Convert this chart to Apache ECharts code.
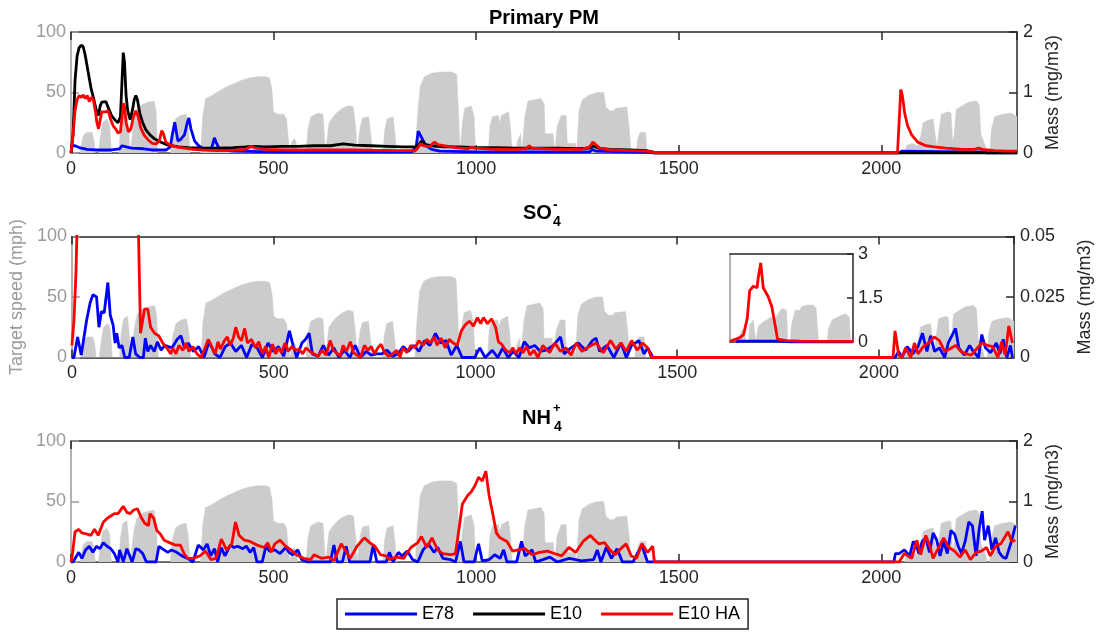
<!DOCTYPE html>
<html><head><meta charset="utf-8">
<script src="https://cdn.jsdelivr.net/npm/echarts@6/dist/echarts.min.js"></script>
<style>html,body{margin:0;padding:0;background:#fff}#c{width:1102px;height:632px}</style>
</head><body><div id="c"></div>
<script>
// ---------- DATA ----------
const xMin = 0, xMax = 2335, xInterval = 500;
const seriesNames = ['E78', 'E10', 'E10 HA'];

// target speed (mph), [time, speed]
const speedProfile = [
[0,0],[22,0],[25,6],[30,14],[38,17],[52,17],[57,10],[60,0],[68,0],[72,12],[78,25],[88,28],[95,24],[100,0],[118,0],[122,20],[128,32],[138,34],[142,20],[146,0],[150,0],[155,25],[162,36],[175,40],[190,42],[205,43],[210,35],[214,0],[245,0],[250,18],[258,28],[270,31],[284,32],[290,20],[294,0],[320,0],[325,30],[332,45],[345,47],[360,50],[380,54],[400,57],[420,60],[440,62],[460,63],[480,63],[490,62],[496,52],[500,34],[510,32],[525,32],[532,28],[537,10],[540,0],[542,0],[546,10],[552,12],[556,8],[560,0],[580,0],[585,20],[592,30],[610,33],[622,32],[628,0],[632,0],[637,25],[645,29],[655,33],[670,37],[685,39],[697,38],[703,20],[706,0],[710,0],[714,22],[720,29],[735,30],[740,15],[744,0],[770,0],[774,18],[780,28],[795,30],[800,15],[803,0],[850,0],[855,30],[862,55],[872,63],[890,66],[910,67],[940,67],[952,65],[957,30],[960,0],[962,0],[966,25],[972,37],[988,39],[995,30],[999,0],[1030,0],[1034,22],[1040,30],[1055,31],[1058,25],[1063,31],[1080,34],[1085,20],[1089,0],[1098,0],[1102,10],[1110,16],[1113,0],[1116,0],[1120,30],[1128,43],[1160,45],[1168,40],[1170,16],[1190,16],[1194,0],[1197,0],[1200,22],[1210,31],[1222,31],[1225,8],[1245,8],[1248,0],[1250,0],[1254,35],[1262,44],[1280,48],[1300,50],[1315,50],[1320,38],[1330,35],[1340,35],[1345,37],[1372,38],[1378,20],[1382,0],[1395,0],[1399,12],[1405,17],[1418,17],[1422,0],[2058,0],[2062,6],[2075,8],[2090,6],[2098,15],[2103,25],[2115,27],[2128,28],[2133,15],[2138,5],[2143,20],[2148,32],[2165,34],[2172,33],[2176,10],[2180,15],[2185,36],[2200,39],[2215,42],[2235,43],[2242,40],[2246,15],[2250,12],[2258,5],[2262,0],[2268,0],[2272,20],[2280,30],[2300,32],[2320,33],[2330,31],[2335,30]
];

// Primary PM (mg/m3)
const pmE78 = [
[0,0],[3,0.12],[10,0.12],[20,0.09],[40,0.06],[60,0.05],[100,0.05],[120,0.07],[126,0.12],[130,0.15],[136,0.1],[150,0.08],[180,0.07],[200,0.05],[235,0.05],[245,0.1],[250,0.3],[256,0.51],[260,0.35],[264,0.2],[270,0.22],[280,0.3],[287,0.5],[291,0.58],[296,0.4],[305,0.2],[315,0.12],[330,0.06],[345,0.05],[350,0.15],[354,0.25],[358,0.18],[365,0.08],[375,0.05],[400,0.03],[500,0.02],[700,0.02],[840,0.02],[852,0.1],[857,0.36],[862,0.3],[868,0.22],[876,0.12],[890,0.06],[910,0.03],[1000,0.02],[1200,0.02],[1280,0.02],[1288,0.06],[1295,0.03],[1420,0.01],[1440,0],[2044,0],[2050,0.03],[2200,0.02],[2250,0.02],[2260,0],[2335,0]
];
const pmE10 = [
[0,0],[5,0.3],[10,1.2],[15,1.6],[20,1.74],[25,1.78],[30,1.76],[35,1.62],[42,1.35],[50,1.05],[56,0.9],[62,0.72],[68,0.62],[72,0.78],[76,0.84],[80,0.82],[86,0.85],[92,0.75],[100,0.62],[108,0.55],[116,0.5],[122,0.6],[126,1.2],[129,1.66],[132,1.5],[136,0.95],[140,0.7],[146,0.55],[152,0.72],[156,0.88],[160,0.95],[164,0.88],[170,0.65],[177,0.5],[185,0.38],[195,0.3],[205,0.24],[215,0.2],[225,0.17],[235,0.14],[248,0.12],[265,0.1],[290,0.09],[320,0.08],[360,0.08],[400,0.09],[430,0.1],[450,0.11],[480,0.1],[520,0.11],[560,0.11],[600,0.12],[640,0.12],[672,0.15],[700,0.13],[740,0.12],[780,0.11],[820,0.1],[850,0.1],[860,0.15],[866,0.2],[875,0.14],[890,0.12],[920,0.1],[960,0.1],[1000,0.09],[1050,0.09],[1100,0.08],[1150,0.08],[1200,0.08],[1250,0.07],[1280,0.08],[1290,0.12],[1300,0.08],[1330,0.06],[1380,0.05],[1420,0.04],[1435,0.02],[1440,0],[2335,0]
];
const pmE10HA = [
[0,0],[5,0.3],[10,0.7],[15,0.88],[20,0.95],[25,0.92],[30,0.96],[35,0.9],[40,0.95],[45,0.85],[50,0.92],[55,0.88],[60,0.7],[64,0.5],[68,0.4],[72,0.55],[76,0.68],[80,0.7],[86,0.68],[92,0.7],[98,0.55],[104,0.45],[110,0.4],[116,0.33],[122,0.35],[126,0.6],[129,0.82],[132,0.78],[136,0.5],[142,0.35],[148,0.4],[154,0.6],[160,0.7],[166,0.6],[172,0.42],[180,0.3],[190,0.22],[200,0.16],[210,0.15],[218,0.2],[224,0.37],[228,0.32],[234,0.18],[245,0.13],[260,0.1],[280,0.08],[300,0.06],[320,0.05],[360,0.04],[400,0.045],[430,0.06],[446,0.11],[455,0.08],[480,0.06],[520,0.05],[600,0.05],[700,0.05],[800,0.04],[850,0.04],[858,0.1],[862,0.15],[870,0.12],[885,0.1],[893,0.16],[898,0.18],[905,0.14],[920,0.12],[950,0.09],[980,0.07],[989,0.1],[995,0.08],[1050,0.06],[1100,0.06],[1125,0.07],[1130,0.12],[1138,0.08],[1200,0.06],[1260,0.06],[1280,0.1],[1288,0.18],[1295,0.14],[1305,0.08],[1330,0.05],[1380,0.04],[1420,0.03],[1435,0.02],[1440,0],[2040,0],[2044,0.5],[2048,1.05],[2052,0.95],[2058,0.65],[2065,0.45],[2075,0.3],[2090,0.18],[2110,0.12],[2130,0.1],[2160,0.08],[2200,0.06],[2230,0.06],[2240,0.08],[2250,0.06],[2280,0.04],[2310,0.03],[2335,0.03]
];

// SO4- (mg/m3)
const so4E78 = [
[0,0],[5,0],[14,0.0085],[23,0.001],[36,0.015],[45,0.0225],[52,0.026],[61,0.025],[67,0.0125],[73,0.019],[80,0.0185],[89,0.031],[95,0.0175],[102,0.0135],[107,0.006],[111,0.01],[117,0.004],[124,0.005],[131,0],[142,0],[151,0.0085],[158,0.0015],[168,0],[177,0],[182,0.008],[188,0.0025],[195,0.005],[204,0.0025],[212,0.0065],[221,0.003],[230,0.005],[248,0.004],[261,0.0075],[270,0.009],[279,0.004],[288,0.006],[301,0.0025],[314,0.0045],[327,0],[340,0.0065],[354,0.0015],[367,0],[380,0.0045],[393,0.006],[406,0.0025],[420,0.005],[433,0],[446,0.0055],[459,0.004],[472,0],[486,0.006],[499,0.0025],[512,0.0045],[525,0.0005],[539,0.011],[548,0.005],[557,0],[570,0.006],[579,0.0075],[588,0.01],[596,0.0015],[610,0.0005],[623,0.005],[636,0.001],[649,0.004],[662,0],[675,0.003],[689,0],[702,0.005],[715,0],[729,0.0025],[742,0.001],[755,0.0015],[768,0.0015],[781,0.003],[795,0.0005],[808,0.0015],[821,0.0045],[834,0.0025],[847,0.005],[860,0.0025],[874,0.007],[887,0.005],[901,0.01],[914,0.006],[927,0.007],[940,0.001],[954,0.005],[967,0],[980,0],[998,0],[1011,0.004],[1024,0],[1042,0.003],[1055,0],[1068,0.004],[1081,0],[1094,0.0025],[1108,0],[1121,0.0065],[1134,0.004],[1147,0.005],[1161,0.0025],[1175,0.003],[1193,0.005],[1211,0.0085],[1220,0.0015],[1237,0.004],[1255,0.006],[1273,0.003],[1290,0.007],[1299,0.008],[1308,0.0025],[1326,0.005],[1343,0],[1361,0.006],[1374,0],[1387,0.005],[1405,0.007],[1418,0.0015],[1427,0.004],[1440,0],[2040,0],[2049,0.0025],[2057,0],[2070,0.0045],[2084,0.0015],[2097,0.0045],[2108,0.01],[2119,0.0025],[2128,0.009],[2138,0.0025],[2150,0.004],[2163,0],[2172,0.006],[2181,0.009],[2190,0.012],[2198,0.004],[2212,0.001],[2225,0.005],[2234,0.0025],[2247,0],[2255,0.0095],[2264,0.004],[2277,0.002],[2291,0.006],[2300,0.0015],[2308,0.0075],[2317,0],[2326,0.005],[2331,0]
];
const so4E10HA = [
[0,0.005],[5,0.015],[10,0.035],[15,0.07],[25,1.0],[60,1.8],[100,1.5],[140,0.6],[150,0.3],[154,0.052],[165,0.051],[170,0.01],[180,0.02],[188,0.02],[195,0.0125],[205,0.01],[215,0.009],[225,0.006],[235,0.004],[245,0.0015],[250,0.004],[258,0.0015],[265,0.005],[275,0.003],[283,0.006],[290,0.0025],[300,0.0045],[310,0.0015],[320,0],[330,0.004],[338,0.0075],[345,0.005],[355,0.0015],[362,0.0065],[368,0.0035],[378,0.007],[385,0.0085],[392,0.005],[400,0.008],[406,0.0125],[413,0.0085],[420,0.007],[428,0.012],[435,0.006],[445,0.0075],[455,0.004],[463,0.0065],[472,0.0015],[480,0.0045],[488,0],[497,0.0055],[505,0.0015],[512,0.004],[520,0.002],[528,0.006],[536,0.0025],[545,0.0045],[555,0.003],[563,0.0035],[572,0.0015],[580,0.004],[590,0.0025],[600,0.0015],[610,0.0005],[620,0.003],[630,0.001],[640,0.007],[648,0.003],[655,0.002],[665,0.0005],[672,0.005],[680,0.0025],[690,0.0065],[698,0.002],[706,0.001],[715,0],[725,0.005],[733,0.003],[742,0.0045],[750,0.0015],[758,0.004],[766,0.0055],[775,0.002],[785,0.0005],[795,0.0015],[805,0.003],[813,0],[820,0.004],[830,0.002],[840,0.005],[850,0.004],[860,0.007],[870,0.005],[880,0.0075],[888,0.006],[898,0.0085],[905,0.005],[915,0.008],[925,0.004],[935,0.0075],[945,0.006],[955,0.005],[965,0.011],[975,0.0135],[985,0.015],[995,0.013],[1005,0.0165],[1013,0.014],[1020,0.0165],[1030,0.014],[1040,0.016],[1050,0.0125],[1057,0.0065],[1065,0.0055],[1075,0.003],[1085,0.002],[1093,0.004],[1100,0.0015],[1110,0.004],[1118,0.002],[1127,0.0045],[1135,0.001],[1145,0.003],[1155,0],[1167,0.005],[1184,0.002],[1197,0.006],[1211,0.0025],[1224,0.004],[1237,0.001],[1250,0.006],[1264,0.0025],[1282,0.0045],[1299,0.006],[1317,0.002],[1335,0.007],[1348,0.0035],[1361,0.006],[1374,0.0025],[1387,0.007],[1401,0.003],[1414,0.006],[1427,0.004],[1436,0],[2035,0],[2040,0.011],[2049,0.001],[2057,0],[2066,0.004],[2079,0],[2088,0.006],[2097,0.0015],[2110,0.0045],[2123,0.006],[2137,0.0085],[2150,0.007],[2163,0.0025],[2176,0.0035],[2190,0.005],[2203,0.0025],[2216,0.0015],[2229,0.001],[2242,0.0035],[2255,0.006],[2269,0.005],[2282,0.0045],[2295,0],[2304,0.0065],[2313,0.001],[2322,0.013],[2331,0.006]
];

// NH4+ (mg/m3)
const nh4E78 = [
[0,0],[5,0],[19,0.16],[27,0.06],[36,0.2],[45,0.26],[54,0.16],[63,0.26],[71,0.22],[80,0.32],[89,0.26],[98,0.22],[107,0.14],[116,0],[120,0.2],[129,0],[138,0.22],[151,0],[160,0.22],[168,0.2],[177,0.14],[186,0],[210,0],[217,0.26],[225,0.22],[239,0.16],[248,0.2],[261,0.16],[274,0.1],[288,0.06],[301,0],[314,0.28],[327,0.2],[336,0.3],[345,0.1],[354,0.22],[362,0],[371,0.24],[380,0.1],[393,0.28],[402,0.24],[411,0.26],[424,0.22],[433,0.26],[442,0.16],[451,0.24],[459,0],[472,0],[481,0.26],[490,0.18],[503,0.2],[516,0.14],[530,0.24],[538,0.16],[547,0.12],[560,0.2],[569,0.04],[583,0],[640,0],[649,0.28],[657,0],[670,0],[679,0.26],[688,0],[738,0],[746,0.28],[755,0],[778,0],[786,0.16],[795,0],[808,0.16],[817,0.1],[830,0.18],[843,0.04],[856,0],[869,0.2],[882,0.3],[896,0.16],[905,0.24],[918,0.06],[936,0.04],[949,0],[961,0.34],[970,0],[995,0],[1006,0.3],[1015,0.02],[1032,0.04],[1046,0.12],[1059,0.06],[1068,0.2],[1076,0],[1100,0],[1112,0.34],[1121,0.1],[1138,0.2],[1147,0],[1165,0.04],[1182,0.08],[1200,0],[1230,0.06],[1260,0.02],[1290,0.04],[1299,0.2],[1308,0],[1321,0.24],[1334,0.06],[1348,0.22],[1361,0],[1387,0],[1409,0.28],[1423,0],[1440,0],[2031,0],[2035,0.14],[2044,0.14],[2057,0.2],[2070,0.1],[2079,0.34],[2088,0.26],[2092,0.14],[2101,0.34],[2110,0.4],[2119,0.16],[2128,0.48],[2137,0.36],[2145,0.1],[2154,0.34],[2163,0.14],[2172,0.52],[2181,0.46],[2190,0.26],[2198,0.14],[2207,0.34],[2216,0.66],[2225,0.6],[2234,0.1],[2242,0.56],[2249,0.84],[2255,0.36],[2264,0.6],[2273,0.2],[2282,0.4],[2291,0.16],[2300,0.08],[2308,0.06],[2322,0.36],[2331,0.6]
];
const nh4E10HA = [
[0,0],[3,0.1],[10,0.5],[19,0.54],[27,0.48],[40,0.46],[49,0.44],[58,0.54],[67,0.44],[80,0.66],[89,0.72],[98,0.76],[107,0.8],[116,0.8],[129,0.92],[138,0.82],[146,0.8],[155,0.86],[164,0.88],[173,0.74],[182,0.64],[191,0.6],[195,0.8],[204,0.72],[212,0.52],[221,0.46],[230,0.36],[243,0.32],[257,0.28],[270,0.28],[279,0.14],[288,0.06],[301,0.06],[318,0.1],[332,0.18],[345,0.04],[358,0.06],[371,0.38],[384,0.2],[397,0.3],[406,0.66],[415,0.44],[428,0.36],[442,0.34],[459,0.28],[477,0.24],[486,0.32],[494,0.16],[503,0.3],[516,0.36],[530,0.26],[543,0.2],[556,0.12],[574,0.06],[592,0.04],[600,0.12],[618,0.06],[636,0.08],[649,0.02],[667,0.3],[680,0.16],[689,0.06],[706,0.26],[724,0.4],[737,0.32],[750,0.26],[764,0.12],[777,0.1],[786,0.04],[803,0.08],[821,0.06],[839,0.24],[856,0.32],[865,0.42],[878,0.24],[891,0.4],[905,0.2],[918,0.14],[936,0.12],[949,0.14],[958,0.56],[966,0.96],[979,1.1],[988,1.16],[997,1.26],[1006,1.4],[1015,1.34],[1024,1.5],[1032,1.1],[1041,0.8],[1050,0.48],[1059,0.4],[1076,0.34],[1090,0.18],[1103,0.2],[1121,0.22],[1138,0.12],[1156,0.16],[1176,0.18],[1193,0.14],[1211,0.1],[1229,0.24],[1246,0.16],[1264,0.34],[1282,0.44],[1290,0.38],[1303,0.3],[1317,0.32],[1330,0.2],[1343,0.12],[1357,0.22],[1370,0.3],[1383,0.1],[1396,0.06],[1409,0.3],[1423,0.16],[1436,0.26],[1440,0],[2044,0],[2057,0.14],[2075,0.06],[2088,0.36],[2097,0.12],[2110,0.44],[2119,0.28],[2128,0.06],[2137,0.18],[2154,0.4],[2167,0.24],[2181,0.18],[2194,0.08],[2207,0.2],[2220,0.04],[2234,0.16],[2247,0.18],[2260,0.24],[2269,0.1],[2282,0.26],[2295,0.3],[2304,0.4],[2313,0.5],[2322,0.34],[2331,0.36]
];

// Inset (SO4- full range), x in % of inset span
const insetSpeed = [
[0,0],[6,0],[8,8],[10,14],[12,10],[13,0],[15,0],[16,20],[19,25],[21,0],[22,0],[23,18],[27,23],[30,25],[33,28],[37,27],[38,30],[42,38],[46,36],[47,0],[49,0],[50,20],[53,36],[57,36],[58,40],[63,42],[68,42],[70,38],[72,0],[79,0],[80,15],[83,25],[90,30],[94,32],[97,28],[98,0],[100,0]
];
const insetE78 = [[5,0],[7,0.03],[40,0.03],[45,0.02],[50,0],[100,0]];
const insetE10HA = [
[0,0.02],[8,0.15],[11,0.25],[14,0.8],[16,1.75],[19,1.9],[22,1.85],[23,2.2],[25,2.7],[27,1.85],[31,1.55],[34,1.2],[37,0.5],[38.6,0.1],[46,0.05],[57,0.03],[71,0.02],[100,0.02]
];

// ---------- STYLE / LAYOUT ----------
const FONT = '"Liberation Sans", Arial, Helvetica, sans-serif';
const GRAY = '#9a9a9a';
const AX = '#262626';
const FILL = '#cccccc';
const LW = 2.8;
const COLORS = {'E78': '#0000ff', 'E10': '#000000', 'E10 HA': '#ff0000'};
const plain = v => String(v);

const panels = [
  {top: 32, rMax: 2, rInt: 1, nameGap: 22, data: {'E78': pmE78, 'E10': pmE10, 'E10 HA': pmE10HA}},
  {top: 236.5, rMax: 0.05, rInt: 0.025, nameGap: 60, leftName: 'Target speed (mph)', data: {'E78': so4E78, 'E10 HA': so4E10HA}},
  {top: 441, rMax: 2, rInt: 1, nameGap: 22, data: {'E78': nh4E78, 'E10 HA': nh4E10HA}}
];
const PH = 121, PL = 71, PW = 946;

const grid = [], xAxis = [], yAxis = [], series = [];
panels.forEach((p, i) => {
  grid.push({left: PL, top: p.top, width: PW, height: PH});
  xAxis.push({
    type: 'value', gridIndex: i, position: 'bottom', min: xMin, max: xMax, interval: xInterval,
    axisLine: {onZero: false, lineStyle: {color: AX, width: 1.5}},
    axisTick: {inside: true, length: 8, lineStyle: {color: AX, width: 1.5}},
    axisLabel: {color: AX, fontSize: 18, fontFamily: FONT, margin: 7, showMaxLabel: false, formatter: plain},
    splitLine: {show: false}
  });
  xAxis.push({
    type: 'value', gridIndex: i, position: 'top', min: xMin, max: xMax, interval: xInterval,
    axisLine: {onZero: false, lineStyle: {color: AX, width: 1.5}},
    axisTick: {inside: true, length: 8, lineStyle: {color: AX, width: 1.5}},
    axisLabel: {show: false}, splitLine: {show: false}
  });
  yAxis.push({
    type: 'value', gridIndex: i, position: 'left', min: 0, max: 100, interval: 50,
    axisLine: {show: true, onZero: false, lineStyle: {color: GRAY, width: 1.5}},
    axisTick: {show: true, inside: true, length: 8, lineStyle: {color: GRAY, width: 1.5}},
    axisLabel: {color: GRAY, fontSize: 18, fontFamily: FONT, margin: 5, formatter: plain},
    splitLine: {show: false},
    name: p.leftName || '', nameLocation: 'middle', nameRotate: 90, nameGap: 44,
    nameTextStyle: {color: GRAY, fontSize: 18, fontFamily: FONT}
  });
  yAxis.push({
    type: 'value', gridIndex: i, position: 'right', min: 0, max: p.rMax, interval: p.rInt,
    axisLine: {show: true, onZero: false, lineStyle: {color: AX, width: 1.5}},
    axisTick: {show: true, inside: true, length: 8, lineStyle: {color: AX, width: 1.5}},
    axisLabel: {color: AX, fontSize: 18, fontFamily: FONT, margin: 6, formatter: plain},
    splitLine: {show: false},
    name: 'Mass (mg/m3)', nameLocation: 'middle', nameRotate: 90, nameGap: p.nameGap,
    nameTextStyle: {color: AX, fontSize: 18, fontFamily: FONT}
  });
  series.push({
    type: 'line', name: 'Target speed', xAxisIndex: 2 * i, yAxisIndex: 2 * i, data: speedProfile,
    symbol: 'none', silent: true, lineStyle: {width: 0.5, color: FILL}, areaStyle: {color: FILL, opacity: 1}, z: 1
  });
  seriesNames.forEach(n => {
    if (!p.data[n]) return;
    series.push({
      type: 'line', name: n, xAxisIndex: 2 * i, yAxisIndex: 2 * i + 1, data: p.data[n],
      symbol: 'none', lineStyle: {width: LW, color: COLORS[n]}, itemStyle: {color: COLORS[n]}, z: 3
    });
  });
});

// inset
grid.push({left: 730, top: 254, width: 123, height: 88, show: true, backgroundColor: '#fff', borderWidth: 0, z: 5});
xAxis.push({type: 'value', gridIndex: 3, position: 'bottom', min: 0, max: 100, z: 6,
  axisLine: {onZero: false, lineStyle: {color: AX, width: 1.5}}, axisTick: {show: false}, axisLabel: {show: false}, splitLine: {show: false}});
xAxis.push({type: 'value', gridIndex: 3, position: 'top', min: 0, max: 100, z: 6,
  axisLine: {onZero: false, lineStyle: {color: AX, width: 1.5}}, axisTick: {show: false}, axisLabel: {show: false}, splitLine: {show: false}});
yAxis.push({type: 'value', gridIndex: 3, position: 'left', min: 0, max: 100, z: 6,
  axisLine: {show: true, onZero: false, lineStyle: {color: GRAY, width: 1.5}}, axisTick: {show: false}, axisLabel: {show: false}, splitLine: {show: false}});
yAxis.push({type: 'value', gridIndex: 3, position: 'right', min: 0, max: 3, interval: 1.5, z: 6,
  axisLine: {show: true, onZero: false, lineStyle: {color: AX, width: 1.5}},
  axisTick: {show: true, inside: true, length: 6, lineStyle: {color: AX, width: 1.5}},
  axisLabel: {color: AX, fontSize: 18, fontFamily: FONT, margin: 5, formatter: plain}, splitLine: {show: false}});
series.push({type: 'line', name: 'Target speed', xAxisIndex: 6, yAxisIndex: 6, data: insetSpeed, symbol: 'none', silent: true,
  lineStyle: {width: 0.5, color: FILL}, areaStyle: {color: FILL, opacity: 1}, z: 7});
series.push({type: 'line', name: 'E78', xAxisIndex: 6, yAxisIndex: 7, data: insetE78, symbol: 'none',
  lineStyle: {width: LW, color: COLORS['E78']}, itemStyle: {color: COLORS['E78']}, z: 8});
series.push({type: 'line', name: 'E10 HA', xAxisIndex: 6, yAxisIndex: 7, data: insetE10HA, symbol: 'none',
  lineStyle: {width: LW, color: COLORS['E10 HA']}, itemStyle: {color: COLORS['E10 HA']}, z: 8});

const tStyle = (size) => ({fontSize: size, fontWeight: 'bold', color: '#000', fontFamily: FONT});
const title = [
  {text: 'Primary PM', left: 544, textAlign: 'center', top: 8, padding: 0, textStyle: tStyle(20)},
  {text: 'SO', left: 523, top: 203, padding: 0, textStyle: tStyle(20)},
  {text: '-', left: 553, top: 198, padding: 0, textStyle: tStyle(14)},
  {text: '4', left: 553, top: 215, padding: 0, textStyle: tStyle(14)},
  {text: 'NH', left: 522, top: 408, padding: 0, textStyle: tStyle(20)},
  {text: '+', left: 553, top: 402, padding: 0, textStyle: tStyle(13)},
  {text: '4', left: 554, top: 420, padding: 0, textStyle: tStyle(14)}
];

const chart = echarts.init(document.getElementById('c'), null, {renderer: 'canvas'});
chart.setOption({
  animation: false,
  backgroundColor: '#fff',
  title,
  legend: {
    data: seriesNames, left: 337, top: 599, orient: 'horizontal',
    icon: 'rect', itemWidth: 72, itemHeight: 3, itemGap: 19,
    padding: [6, 8, 6, 8], borderColor: AX, borderWidth: 1.5, selectedMode: false,
    textStyle: {fontSize: 18, color: '#000', fontFamily: FONT}
  },
  grid, xAxis, yAxis, series
});
</script></body></html>
